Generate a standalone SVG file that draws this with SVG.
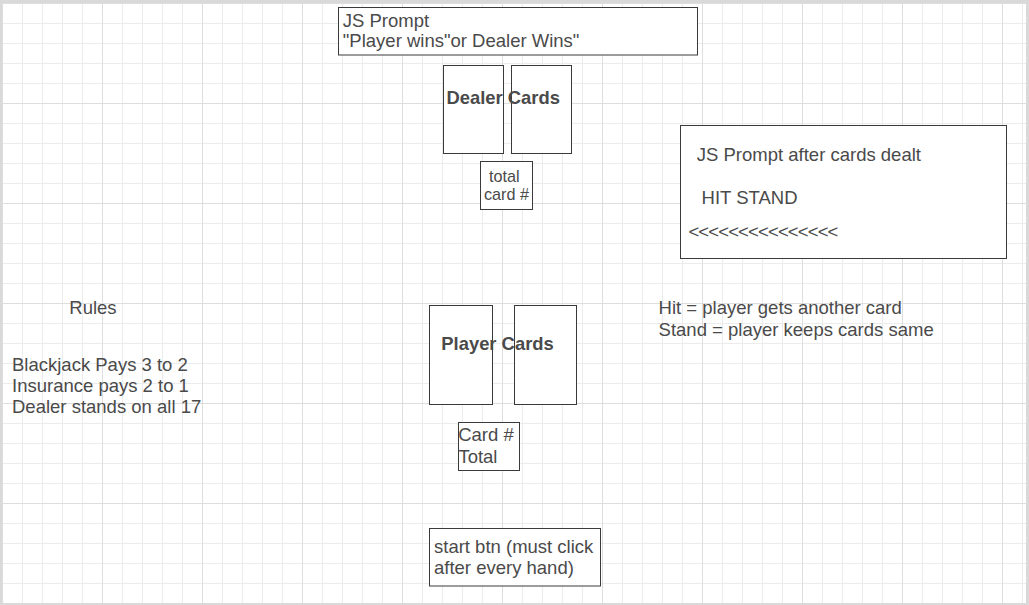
<svg xmlns="http://www.w3.org/2000/svg" width="1029" height="605" viewBox="0 0 1029 605">
<style>
.box{fill:#ffffff;stroke:#3a3a3a;stroke-width:1}
.t{font-family:"Liberation Sans",Arial,sans-serif;font-size:18.5px;fill:#4a4a4a}
.b{font-weight:bold;font-size:18.4px}
.s{font-size:16.2px}
</style>
<defs>
<pattern id="grid" patternUnits="userSpaceOnUse" x="2" y="3" width="100" height="100">
<path d="M20.5 0V100M40.5 0V100M60.5 0V100M80.5 0V100M0 20.5H100M0 40.5H100M0 60.5H100M0 80.5H100" stroke="#ececec" stroke-width="1" fill="none"/>
<path d="M0.5 0V100M0 0.5H100" stroke="#dedede" stroke-width="1" fill="none"/>
</pattern>
</defs>
<rect x="0" y="0" width="1029" height="605" fill="#d9d9d9"/>
<rect x="2" y="3" width="1024" height="600" fill="#ffffff"/>
<rect x="2" y="3" width="1024" height="600" fill="url(#grid)"/>
<g id="connectors"></g>
<g id="result-prompt">
<rect class="box" x="338.5" y="7.5" width="359" height="47.5"/>
<text class="t" x="342.8" y="26.5">JS Prompt</text>
<text class="t" x="342.8" y="47.3">"Player wins"or Dealer Wins"</text>
</g>
<g id="dealer-cards">
<rect class="box" x="443.5" y="65.5" width="60" height="88"/>
<rect class="box" x="511.5" y="65.5" width="60" height="88"/>
<text class="t b" x="446.5" y="104.3">Dealer Cards</text>
</g>
<g id="dealer-total">
<rect class="box" x="480.5" y="161.5" width="52" height="48"/>
<text class="t s" x="489" y="181.6">total</text>
<text class="t s" x="484" y="200">card #</text>
</g>
<g id="hit-stand-prompt">
<rect class="box" x="680.5" y="125.5" width="326" height="133"/>
<text class="t" x="696.8" y="160.7">JS Prompt after cards dealt</text>
<text class="t" x="701.6" y="204.3">HIT STAND</text>
<text class="t" x="688.4" y="238.3" textLength="150" lengthAdjust="spacing">&lt;&lt;&lt;&lt;&lt;&lt;&lt;&lt;&lt;&lt;&lt;&lt;&lt;&lt;&lt;</text>
</g>
<g id="hit-stand-notes">
<text class="t" x="658.6" y="314">Hit = player gets another card</text>
<text class="t" x="658.6" y="336">Stand = player keeps cards same</text>
</g>
<g id="rules">
<text class="t" x="69.3" y="314">Rules</text>
<text class="t" x="12" y="371">Blackjack Pays 3 to 2</text>
<text class="t" x="12" y="392.3">Insurance pays 2 to 1</text>
<text class="t" x="12" y="413.3">Dealer stands on all 17</text>
</g>
<g id="player-cards">
<rect class="box" x="429.5" y="305.5" width="63" height="99"/>
<rect class="box" x="514.5" y="305.5" width="62" height="99"/>
<text class="t b" x="441.3" y="350.3">Player Cards</text>
</g>
<g id="player-total">
<rect class="box" x="458.5" y="422.5" width="61" height="48"/>
<text class="t" x="458.2" y="441">Card #</text>
<text class="t" x="458.4" y="462.7">Total</text>
</g>
<g id="start-btn">
<rect class="box" x="429.5" y="528.5" width="171" height="57.5"/>
<text class="t" x="434" y="552.7">start btn (must click</text>
<text class="t" x="434" y="574">after every hand)</text>
</g>
</svg>
